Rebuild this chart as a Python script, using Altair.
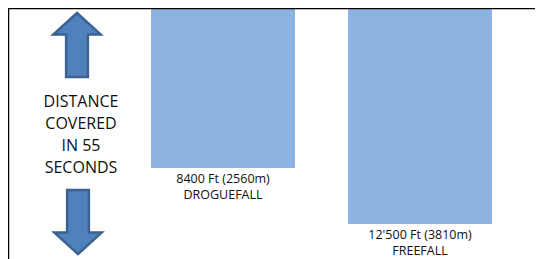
import altair as alt
import pandas as pd

# ---- data ----
categories = ["DROGUEFALL", "FREEFALL"]
distance_ft = [8400, 12500]
distance_m = [2560, 3810]
value_labels = ["8400 Ft (2560m)", "12'500 Ft (3810m)"]
side_lines = ["DISTANCE", "COVERED", "IN 55", "SECONDS"]

W, H = 527, 251
Y_MIN, Y_MAX = -3314, 14477 + 8 * 73.2
BAR_COLOR = "#8DB3E2"
ARROW_FILL = "#4F81BD"
ARROW_STROKE = "#3B6290"

df = pd.DataFrame({
    "cat": categories,
    "ft": distance_ft,
    "m": distance_m,
    "label": [f"{v}\n{c}" for v, c in zip(value_labels, categories)],
})

xscale = alt.Scale(domain=categories, paddingInner=0.269, paddingOuter=0.472, align=0.769)
yscale = alt.Scale(domain=[Y_MIN, Y_MAX], reverse=True, nice=False, zero=False)

base = alt.Chart(df)

bars = base.mark_bar(color=BAR_COLOR).encode(
    x=alt.X("cat:N", scale=xscale, axis=None),
    y=alt.Y("ft:Q", scale=yscale, axis=None),
    y2=alt.datum(Y_MIN),
)

labels = base.mark_text(
    baseline="top", align="center", dy=5, fontSize=12.5, font="Open Sans",
    lineBreak="\n", lineHeight=16, color="#111111",
).encode(
    x=alt.X("cat:N", scale=xscale, axis=None),
    y=alt.Y("ft:Q", scale=yscale, axis=None),
    text="label:N",
)

one = pd.DataFrame({"k": [0]})

side_text = alt.Chart(pd.DataFrame({"t": ["\n".join(side_lines)]})).mark_text(
    align="center", baseline="middle", fontSize=16, font="Open Sans",
    lineBreak="\n", lineHeight=22, color="#111111",
).encode(x=alt.value(73), y=alt.value(94), text="t:N")

up_path = "M0,-1L0.74,-0.33L0.34,-0.33L0.34,1L-0.34,1L-0.34,-0.33L-0.74,-0.33Z"
down_path = "M0,1L0.74,0.33L0.34,0.33L0.34,-1L-0.34,-1L-0.34,0.33L-0.74,0.33Z"

up_arrow = alt.Chart(one).mark_point(
    shape=up_path, size=4096, filled=True, fill=ARROW_FILL, stroke=ARROW_STROKE,
    strokeWidth=2.5, opacity=1,
).encode(x=alt.value(69), y=alt.value(37))

down_arrow = alt.Chart(one).mark_point(
    shape=down_path, size=4096, filled=True, fill=ARROW_FILL, stroke=ARROW_STROKE,
    strokeWidth=2.5, opacity=1,
).encode(x=alt.value(70), y=alt.value(214))

top_border = alt.Chart(one).mark_rule(color="black", strokeWidth=2.5).encode(
    x=alt.value(0), x2=alt.value(W), y=alt.value(0)
)
left_border = alt.Chart(one).mark_rule(color="black", strokeWidth=2.5).encode(
    x=alt.value(0), y=alt.value(0), y2=alt.value(H)
)

chart = alt.layer(
    bars, labels, side_text, up_arrow, down_arrow, top_border, left_border
).properties(
    width=W, height=H, padding=0, autosize=alt.AutoSizeParams(type="none"),
).configure_view(stroke=None).configure(background="white")

chart.save("out.html", embed_options={"renderer": "svg", "actions": False})
